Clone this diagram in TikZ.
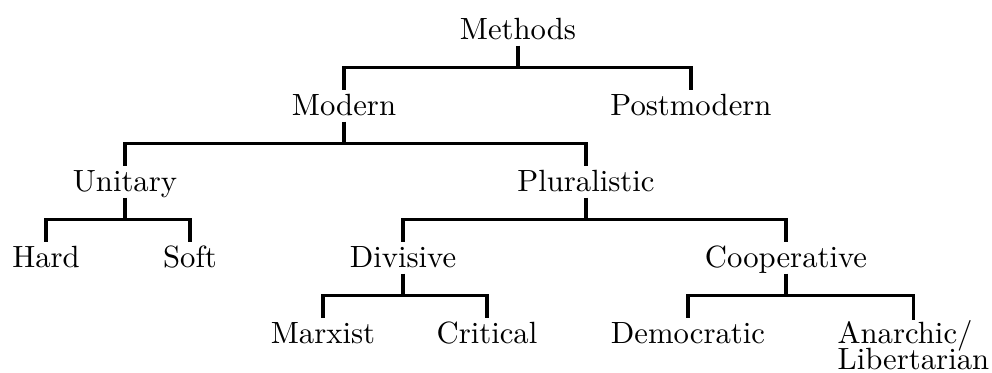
\documentclass[tikz,border=0pt]{standalone}
\usepackage{amsmath,amssymb}
\usepackage{tikz}

\tikzset{
  lbl/.style={inner sep=0pt,anchor=base,text height=8pt,text depth=2pt},
  branch/.style={line width=1pt}
}

\begin{document}
\begin{tikzpicture}[x=0.3257pt,y=-0.3257pt]
  \useasboundingbox (0,0) rectangle (992,372);
  \node[lbl] (methods) at (518,39) {Methods};
  \node[lbl] (modern) at (344,115) {Modern};
  \node[lbl] (postmodern) at (691,115) {Postmodern};
  \node[lbl] (unitary) at (125,191) {Unitary};
  \node[lbl] (pluralistic) at (586,191) {Pluralistic};
  \node[lbl] (hard) at (46,267) {Hard};
  \node[lbl] (soft) at (190,267) {Soft};
  \node[lbl] (divisive) at (403,267) {Divisive};
  \node[lbl] (cooperative) at (786,267) {Cooperative};
  \node[lbl] (marxist) at (323,343) {Marxist};
  \node[lbl] (critical) at (487,343) {Critical};
  \node[lbl] (democratic) at (688,343) {Democratic};
  \node[inner sep=0pt,anchor=north west,align=left] (anarchic) at (837,320)
    {Anarchic/\\[-3.5pt]Libertarian};
  \draw[branch]
    (methods.south)
    --
    ++(0,22)
    -|
    (modern.north);
  \draw[branch]
    (methods.south)
    --
    ++(0,22)
    -|
    (postmodern.north);
  \draw[branch]
    (modern.south)
    --
    ++(0,22)
    -|
    (unitary.north);
  \draw[branch]
    (modern.south)
    --
    ++(0,22)
    -|
    (pluralistic.north);
  \draw[branch]
    (unitary.south)
    --
    ++(0,22)
    -|
    (hard.north);
  \draw[branch]
    (unitary.south)
    --
    ++(0,22)
    -|
    (soft.north);
  \draw[branch]
    (pluralistic.south)
    --
    ++(0,22)
    -|
    (divisive.north);
  \draw[branch]
    (pluralistic.south)
    --
    ++(0,22)
    -|
    (cooperative.north);
  \draw[branch]
    (divisive.south)
    --
    ++(0,22)
    -|
    (marxist.north);
  \draw[branch]
    (divisive.south)
    --
    ++(0,22)
    -|
    (critical.north);
  \draw[branch]
    (cooperative.south)
    --
    ++(0,22)
    -|
    (democratic.north);
  \draw[branch]
    (cooperative.south)
    --
    ++(0,22)
    -|
    (anarchic.north);
\end{tikzpicture}
\end{document}
